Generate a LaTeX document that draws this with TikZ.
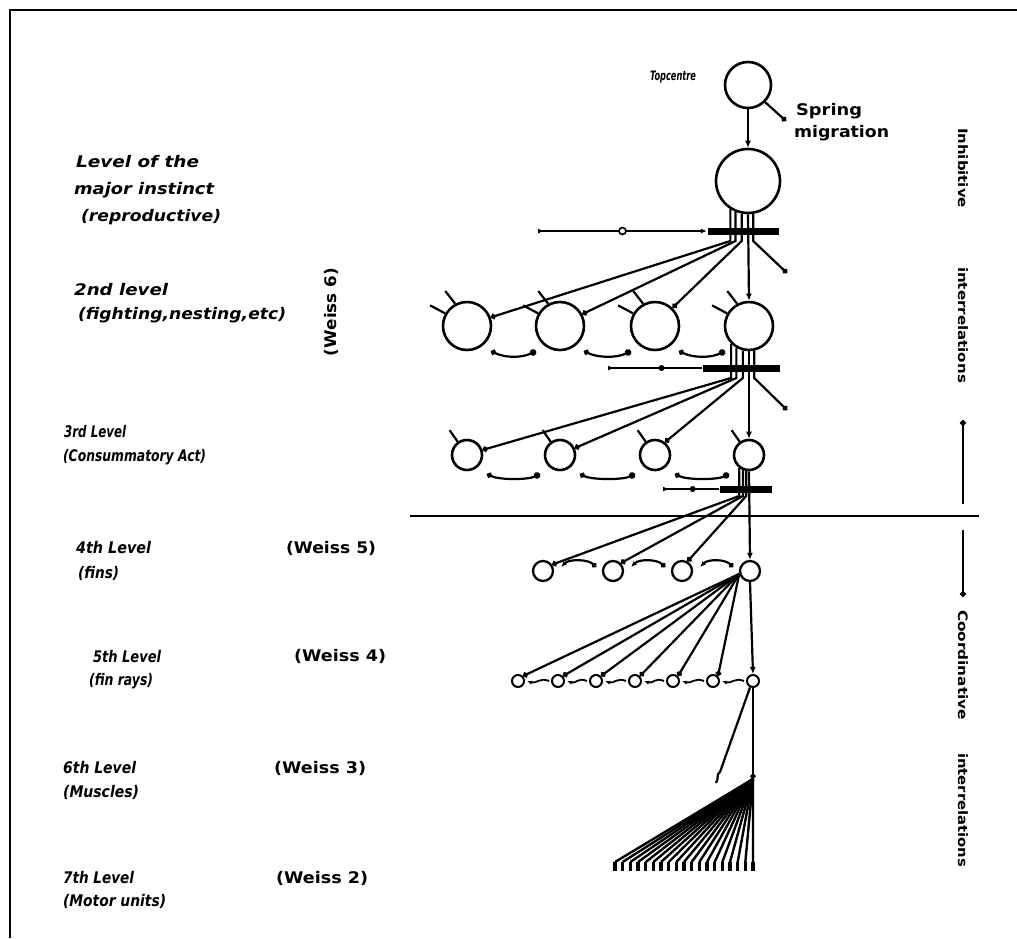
\documentclass[tikz,border=0pt]{standalone}
\usepackage{fontspec}
\setmainfont{DejaVu Sans}
\usepackage{graphicx}
\usetikzlibrary{arrows.meta,calc}
\newcommand\fitw[2]{\resizebox{#1pt}{\height}{#2}}
\begin{document}
\begin{tikzpicture}[x=1pt,y=-1pt,line width=2.2pt,
  ctr/.style={circle,draw,line width=2.6pt,inner sep=0pt},
  barn/.style={rectangle,fill=black,inner sep=0pt},
  lbl/.style={font=\fontsize{16}{18}\selectfont\bfseries\itshape,inner sep=0pt,anchor=west},
  wlbl/.style={font=\fontsize{16}{18}\selectfont\bfseries,inner sep=0pt,anchor=west},
  rlbl/.style={font=\fontsize{13}{15}\selectfont\bfseries,inner sep=0pt,rotate=-90},
  todot/.style={-{Circle[length=5.5pt]}},
  dotdot/.style={{Circle[length=5.5pt]}-{Circle[length=6.5pt]}},
  toarr/.style={-{Latex[length=7pt,width=6pt]}},
  opendot/.style={circle,draw,fill=white,line width=1.6pt,inner sep=0pt,minimum size=7pt},
  soliddot/.style={circle,fill=black,inner sep=0pt,minimum size=6pt},
]
\useasboundingbox (0,0) rectangle (1017,938);
\fill[white] (0,0) rectangle (1017,938);
\draw[line width=2.6pt] (10,938) -- (10,10) -- (1017,10);

% centres
\node[ctr,minimum size=46pt] (top) at (748,85) {};
\node[ctr,minimum size=64pt] (maj) at (748,181) {};
\foreach \n/\x in {1/467,2/560,3/655,4/749}{
  \node[ctr,minimum size=48pt] (c2\n) at (\x,326) {};
  \node[ctr,minimum size=30pt] (c3\n) at (\x,455) {};
}
\foreach \n/\x in {1/543,2/613,3/682,4/750}
  \node[ctr,minimum size=20pt,line width=2.3pt] (c4\n) at (\x,571) {};
\foreach \n/\x in {1/518,2/558,3/596,4/635,5/673,6/713,7/753}
  \node[ctr,minimum size=12pt,line width=2pt] (c5\n) at (\x,681) {};

% bars
\node[barn,minimum width=71pt,minimum height=7pt] (b1) at (743.5,231) {};
\node[barn,minimum width=77pt,minimum height=7pt] (b2) at (741.5,368) {};
\node[barn,minimum width=52pt,minimum height=7pt] (b3) at (746,489) {};

% coordinates
\coordinate (sm) at (786,121);
\coordinate (k1) at (748,241);
\coordinate (s1) at (787,273);
\coordinate (k2) at (750,378);
\coordinate (s2) at (787,410);
\coordinate (k3) at (748,496);
\coordinate (in1) at (538,231);
\coordinate (in2) at (608,368);
\coordinate (in3) at (663,489);
\coordinate (m6) at (753,779);
\coordinate (hk1) at (720,772);
\coordinate (hk2) at (716,783);

% top centre
\draw[toarr] (top) -- (maj);
\draw[todot] (top.-45) -- (sm);

% major instinct -> bar 1 -> level 2
\draw[todot] (maj.-122) -- (maj.-122 |- k1) -- (c21.20);
\draw[todot] (maj.-112) -- (maj.-112 |- k1) -- (c22.28);
\draw[todot] (maj.-101) -- (maj.-101 |- k1) -- (c23.46);
\draw[toarr] (maj.-90) -- (c24.north);
\draw[todot] (maj.-81) -- (maj.-81 |- k1) -- (s1);
\draw[{Latex[length=6pt,width=5pt,reversed]}-{Latex[length=6pt,width=5pt]}] (in1) -- (b1.west) node[opendot,pos=0.5] (o1) {};

% level 2 inputs and mutual inhibition
\foreach \n in {1,...,4}{
  \draw (c2\n.150) -- ++(-152:17);
  \draw (c2\n.118) -- ++(-128:16);
}
\foreach \a/\b in {1/2,2/3,3/4}
  \draw[dotdot] ($(c2\a)+(24,25)$) .. controls +(14,7) and +(-14,7) .. ($(c2\b)+(-24,25)$);

% level 2 -> bar 2 -> level 3
\draw[todot] (c24.-135) -- (c24.-135 |- k2) -- (c31.18);
\draw[todot] (c24.-120) -- (c24.-120 |- k2) -- (c32.25);
\draw[todot] (c24.-104) -- (c24.-104 |- k2) -- (c33.52);
\draw[toarr] (c24.south) -- (c34.north);
\draw[todot] (c24.-78) -- (c24.-78 |- k2) -- (s2);
\draw[{Latex[length=6pt,width=5pt,reversed]}-] (in2) -- (b2.west) node[soliddot,pos=0.57] (o2) {};

\foreach \n in {1,...,4}
  \draw (c3\n.125) -- ++(-125:14);
\foreach \a/\b in {1/2,2/3,3/4}
  \draw[dotdot] ($(c3\a)+(20,19)$) .. controls +(12,6) and +(-12,6) .. ($(c3\b)+(-20,19)$);

% level 3 -> bar 3 -> level 4
\draw[todot] (c34.-127) -- (c34.-127 |- k3) -- (c41.35);
\draw[todot] (c34.-112) -- (c34.-112 |- k3) -- (c42.45);
\draw[todot] (c34.-100) -- (c34.-100 |- k3) -- (c43.60);
\draw[toarr] (c34.south) -- (c44.north);
\draw[{Latex[length=6pt,width=5pt,reversed]}-] (in3) -- (b3.west) node[soliddot,pos=0.53] (o3) {};

\foreach \a/\b in {1/2,2/3,3/4}
  \draw[{Latex[length=6pt,width=5pt]}-{Circle[length=5pt]}] ($(c4\a)+(18,-4)$) .. controls +(8,-8) and +(-8,-8) .. ($(c4\b)+(-17,-4)$);

% level 4 -> level 5
\foreach \n in {1,...,6}
  \draw[todot] (c44.195) -- (c5\n.45);
\draw[toarr] (c44.south) -- (c57.north);
\foreach \a/\b in {1/2,2/3,3/4,4/5,5/6,6/7}
  \draw[line width=1.8pt,-{Latex[length=5pt,width=4pt]}] ($(c5\b.west)+(-2,0)$) .. controls +(-9,-4) and +(9,3) .. ($(c5\a.east)+(2,0)$);

% level 6 and 7
\draw[todot] (c57) -- (m6);
\draw (c57.-115) -- (hk1) .. controls +(-4,2) and +(3,-4) .. (hk2);
\foreach \i in {0,...,18}{
  \coordinate (mu\i) at ({615+7.667*\i},862);
  \draw[line width=2.4pt] (m6) -- (mu\i);
  \draw[line width=3.2pt] (mu\i) -- ++(0,9);
}

% divider
\draw[line width=2.4pt] (410,516) -- (979,516);

% right side
\coordinate (r1) at (963,420);
\coordinate (r2) at (963,504);
\coordinate (r3) at (963,530);
\coordinate (r4) at (963,597);
\draw[{Circle[length=6pt]}-] (r1) -- (r2);
\draw[-{Circle[length=6pt]}] (r3) -- (r4);
\node[rlbl] (ri1) at (963,168) {\fitw{80}{Inhibitive}};
\node[rlbl] (ri2) at (963,325) {\fitw{116}{interrelations}};
\node[rlbl] (rc1) at (963,665) {\fitw{110}{Coordinative}};
\node[rlbl] (rc2) at (963,810) {\fitw{114}{interrelations}};

% top labels
\node[font=\fontsize{13}{15}\selectfont\bfseries\itshape,inner sep=0pt] (ttop) at (673,77) {\fitw{46}{Topcentre}};
\node[wlbl] (tsp1) at (795,111) {\fitw{66}{Spring}};
\node[wlbl] (tsp2) at (793,133) {\fitw{95}{migration}};

% left labels
\node[lbl] (t1a) at (75,162) {\fitw{123}{Level of the}};
\node[lbl] (t1b) at (73,190) {\fitw{140}{major instinct}};
\node[lbl] (t1c) at (80,217) {\fitw{140}{(reproductive)}};
\node[lbl] (t2a) at (73,290) {\fitw{94}{2nd level}};
\node[lbl] (t2b) at (77,315) {\fitw{208}{(fighting,nesting,etc)}};
\node[wlbl,anchor=center,rotate=90] (w6) at (331,312) {\fitw{88}{(Weiss 6)}};
\node[lbl] (t3a) at (63,432) {\fitw{62}{3rd Level}};
\node[lbl] (t3b) at (62,457) {\fitw{143}{(Consummatory Act)}};
\node[lbl] (t4a) at (75,548) {\fitw{75}{4th Level}};
\node[lbl] (t4b) at (77,573) {\fitw{41}{(fins)}};
\node[wlbl] (w5) at (285,548) {\fitw{90}{(Weiss 5)}};
\node[lbl] (t5a) at (92,657) {\fitw{68}{5th Level}};
\node[lbl] (t5b) at (88,681) {\fitw{64}{(fin rays)}};
\node[wlbl] (w4) at (293,656) {\fitw{92}{(Weiss 4)}};
\node[lbl] (t6a) at (62,768) {\fitw{73}{6th Level}};
\node[lbl] (t6b) at (62,792) {\fitw{76}{(Muscles)}};
\node[wlbl] (w3) at (273,768) {\fitw{92}{(Weiss 3)}};
\node[lbl] (t7a) at (62,878) {\fitw{71}{7th Level}};
\node[lbl] (t7b) at (62,901) {\fitw{103}{(Motor units)}};
\node[wlbl] (w2) at (275,878) {\fitw{92}{(Weiss 2)}};
\end{tikzpicture}
\end{document}
